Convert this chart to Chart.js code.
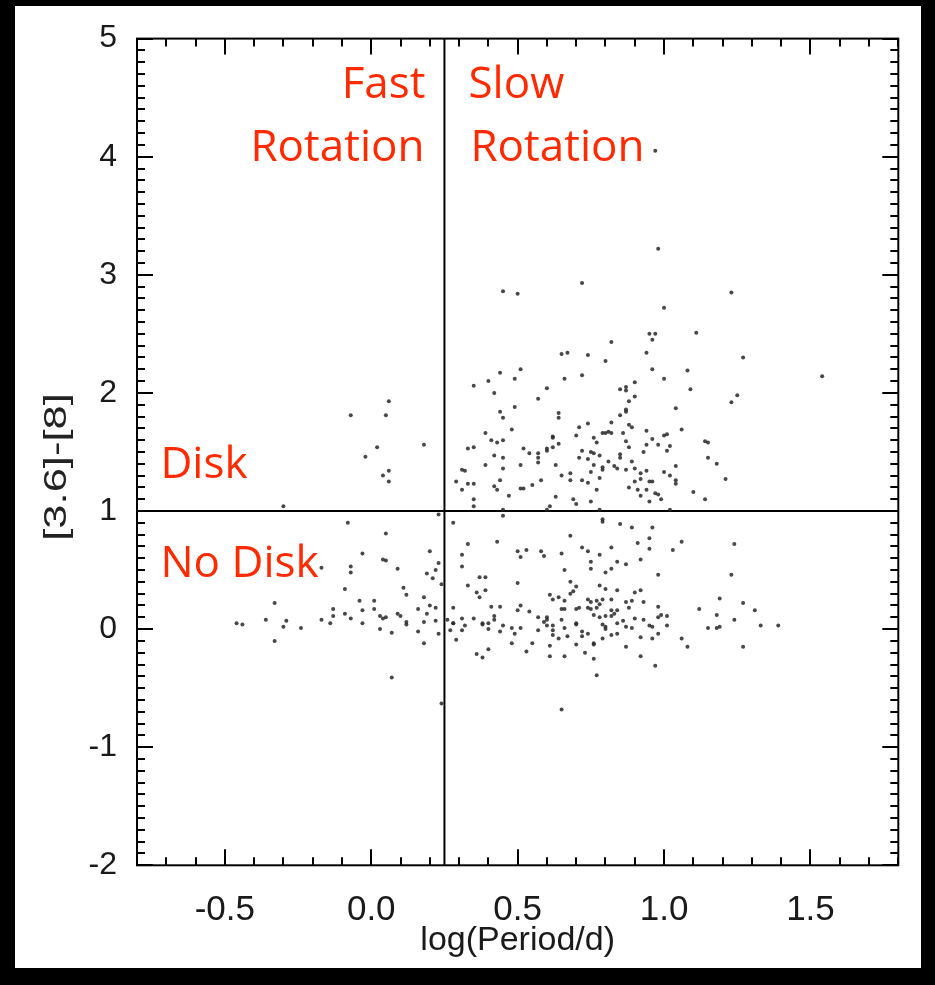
<!DOCTYPE html>
<html>
<head>
<meta charset="utf-8">
<script src="https://cdn.jsdelivr.net/npm/chart.js@4.4.0/dist/chart.umd.min.js"></script>
<style>
html, body { margin: 0; padding: 0; background: #000; }
#wrap { width: 935px; height: 985px; }
</style>
</head>
<body>
<div id="wrap"><canvas id="myChart" width="935" height="985"></canvas></div>
<script>
// log(Period/d) and [3.6]-[8] per quadrant
const fastDiskX = [0.06, -0.07, 0.05, 0.18, 0.02, -0.02, 0.06, 0.04, 0.06, -0.30]
const fastDiskY = [1.93, 1.81, 1.81, 1.56, 1.54, 1.46, 1.34, 1.30, 1.25, 1.04]

const fastNoDiskX = [0.23, -0.08, 0.05, -0.03, 0.04, 0.05, -0.07, -0.07, -0.17, 0.09, 0.20, 0.23, 0.22, 0.19, 0.21, 0.24,
  -0.09, 0.11, 0.12, 0.18, -0.33, -0.04, 0.01, 0.01, 0.20, 0.22, -0.13, -0.03, 0.16, -0.13, -0.14, -0.09, -0.07, -0.03,
  0.03, 0.04, 0.05, 0.09, 0.10, 0.12, 0.12, 0.19, 0.18, 0.22, -0.46, -0.44, -0.36, -0.30, -0.29, -0.24, -0.17, 0.03,
  0.07, 0.16, 0.23, -0.33, 0.18, 0.07, 0.24]
const fastNoDiskY = [0.97, 0.90, 0.81, 0.64, 0.59, 0.58, 0.53, 0.48, 0.52, 0.51, 0.66, 0.56, 0.50, 0.47, 0.43, 0.38,
  0.34, 0.35, 0.29, 0.27, 0.22, 0.24, 0.24, 0.17, 0.20, 0.18, 0.17, 0.16, 0.17, 0.11, 0.05, 0.13, 0.09, 0.05,
  0.11, 0.09, 0.10, 0.13, 0.11, 0.06, 0.04, 0.13, 0.06, 0.07, 0.05, 0.04, 0.08, 0.02, 0.07, 0.01, 0.08, 0.00,
  -0.03, -0.02, -0.04, -0.10, -0.12, -0.41, -0.63]

const slowDiskX = [0.98, 0.45, 0.50, 0.72, 1.23, 1.00, 0.95, 0.97, 0.96, 1.11, 0.82, 0.65, 0.67, 0.74, 0.80, 0.94, 1.27,
  1.54, 0.96, 1.00, 1.08, 1.09, 1.25, 1.23, 1.04, 0.90, 0.90, 0.87, 0.87, 0.85, 0.88, 0.87, 0.87, 0.85, 0.35, 0.40,
  0.44, 0.51, 0.49, 0.42, 0.49, 0.44, 0.45, 0.60, 0.57, 0.66, 0.72, 0.64, 0.64, 0.97,
  0.74, 0.82, 0.88, 0.89, 0.71, 0.39, 0.48, 0.62, 0.62, 0.70, 0.76, 0.79, 0.80, 0.81, 0.82, 0.86, 0.94, 1.00, 1.01,
  1.06, 0.41, 0.43, 0.45, 0.77, 0.87, 0.96, 1.14, 1.15, 0.33, 0.35, 0.52, 0.54, 0.57, 0.57, 0.60, 0.60, 0.62, 0.64,
  0.72, 0.75, 0.76, 0.78, 0.71, 0.74, 0.85, 0.85, 0.88, 0.93, 0.94, 0.98, 1.02, 1.01, 1.15, 1.18, 1.21, 0.42, 0.45,
  0.39, 0.45, 0.51, 0.57, 0.63, 0.76, 0.81, 0.83, 0.84, 0.87, 0.89, 0.90, 0.92, 0.94, 1.00, 1.02, 1.04, 0.31, 0.32,
  0.29, 0.31, 0.33, 0.35, 0.35, 0.35, 0.42, 0.43, 0.44, 0.47, 0.51, 0.52, 0.55, 0.58, 0.65, 0.68, 0.68, 0.63, 0.69,
  0.70, 0.72, 0.74, 0.75, 0.78, 0.77, 0.75, 0.79, 0.79, 0.88, 0.90, 0.91, 0.92, 0.92, 0.94, 0.95, 0.96, 0.95, 0.97,
  0.98, 0.99, 1.04, 1.04, 1.10, 1.14, 0.45, 0.60, 0.61, 0.78, 1.02]
const slowDiskY = [3.22, 2.86, 2.84, 2.93, 2.85, 2.72, 2.50, 2.50, 2.45, 2.51, 2.43, 2.33, 2.34, 2.32, 2.27, 2.34, 2.30,
  2.14, 2.20, 2.12, 2.19, 2.03, 1.98, 1.92, 1.87, 2.09, 1.97, 2.05, 2.02, 2.03, 1.93, 1.86, 1.84, 1.81, 2.06, 2.10,
  2.17, 2.20, 2.12, 2.00, 1.88, 1.84, 1.79, 2.04, 1.95, 2.12, 2.15, 1.83, 1.79, 4.05,
  1.74, 1.75, 1.73, 1.71, 1.71, 1.66, 1.69, 1.63, 1.62, 1.64, 1.62, 1.66, 1.66, 1.67, 1.66, 1.66, 1.68, 1.64, 1.65,
  1.69, 1.60, 1.58, 1.60, 1.58, 1.59, 1.61, 1.59, 1.58, 1.53, 1.54, 1.53, 1.49, 1.49, 1.45, 1.51, 1.53, 1.54, 1.57,
  1.51, 1.50, 1.49, 1.47, 1.45, 1.44, 1.48, 1.45, 1.54, 1.50, 1.56, 1.56, 1.55, 1.51, 1.45, 1.40, 1.27, 1.47, 1.45,
  1.39, 1.36, 1.39, 1.41, 1.39, 1.39, 1.42, 1.38, 1.36, 1.35, 1.42, 1.36, 1.32, 1.34, 1.33, 1.30, 1.38, 1.35, 1.34,
  1.25, 1.18, 1.23, 1.23, 1.10, 1.04, 1.21, 1.18, 1.26, 1.13, 1.19, 1.19, 1.22, 1.26, 1.30, 1.32, 1.26, 1.12, 1.10,
  1.06, 1.26, 1.24, 1.33, 1.28, 1.18, 1.08, 1.35, 1.37, 1.20, 1.25, 1.18, 1.27, 1.13, 1.18, 1.25, 1.25, 1.08, 1.15,
  1.14, 1.10, 1.26, 1.23, 1.16, 1.10, 1.01, 1.01, 1.04, 1.01, 1.01]

const slowNoDiskX = [0.45, 0.28, 0.79, 0.79, 0.85, 0.89, 0.96, 0.68, 0.95, 0.28, 0.26, 0.28, 0.27, 0.29, 0.33, 0.43,
  0.53, 0.50, 0.51, 0.58, 0.59, 0.65, 0.72, 0.74, 0.78, 0.82, 0.91, 0.95, 1.06, 1.03, 1.24, 0.31, 0.31, 0.33, 0.37,
  0.39, 0.50, 0.66, 0.75, 0.75, 0.80, 0.82, 0.84, 0.87, 0.92, 0.98, 1.23, 0.68, 0.70, 0.36, 0.37, 0.39, 0.61, 0.64,
  0.62, 0.66, 0.68, 0.69, 0.78, 0.80, 0.84, 0.90, 0.92, 0.74, 0.75, 0.77, 0.79, 0.78, 0.74, 0.77, 0.82, 0.87, 0.89,
  0.93, 0.88, 0.98, 0.41, 0.44, 0.50, 0.51, 0.54, 0.65, 0.66, 0.70, 0.71, 0.82, 0.83, 0.84, 0.82, 0.80, 0.78, 0.76,
  0.75, 1.27, 1.19, 1.31, 1.12, 1.18, 1.24, 1.33, 1.39, 1.15, 1.18, 1.19, 1.27, 1.06, 1.08, 0.97, 0.92, 0.87, 0.77,
  0.76, 0.73, 0.70, 0.76, 0.76, 0.79, 0.82, 0.84, 0.92, 0.96, 0.98, 1.01, 0.99, 1.01, 0.98, 0.95, 0.96, 0.93, 0.90,
  0.87, 0.89, 0.86, 0.84, 0.79, 0.80, 0.80, 0.74, 0.72, 0.72, 0.70, 0.70, 0.66, 0.67, 0.64, 0.62, 0.62, 0.62, 0.60,
  0.60, 0.60, 0.59, 0.57, 0.65, 0.57, 0.55, 0.53, 0.48, 0.49, 0.51, 0.48, 0.44, 0.45, 0.42, 0.42, 0.40, 0.38, 0.38,
  0.40, 0.35, 0.31, 0.32, 0.31, 0.28, 0.36, 0.38, 0.40, 0.61, 0.61, 0.66, 0.65]
const slowNoDiskY = [0.96, 0.90, 0.93, 0.91, 0.89, 0.86, 0.86, 0.79, 0.77, 0.18, 0.08, 0.05, -0.01, -0.09, 0.72, 0.74,
  0.67, 0.66, 0.61, 0.66, 0.62, 0.64, 0.69, 0.66, 0.63, 0.69, 0.73, 0.68, 0.74, 0.67, 0.72, 0.63, 0.53, 0.37, 0.44,
  0.44, 0.39, 0.50, 0.57, 0.51, 0.48, 0.51, 0.57, 0.55, 0.59, 0.46, 0.46, 0.40, 0.36, 0.31, 0.27, 0.33, 0.29, 0.27,
  0.25, 0.24, 0.30, 0.32, 0.37, 0.34, 0.33, 0.31, 0.33, 0.25, 0.23, 0.24, 0.25, 0.21, 0.18, 0.18, 0.25, 0.23, 0.24,
  0.23, 0.18, 0.19, 0.19, 0.19, 0.16, 0.20, 0.15, 0.17, 0.17, 0.17, 0.18, 0.16, 0.13, 0.16, 0.11, 0.11, 0.10, 0.12,
  0.17, 0.22, 0.26, 0.16, 0.17, 0.12, 0.08, 0.03, 0.03, 0.01, 0.01, 0.02, -0.15, -0.08, -0.15, -0.31, -0.23, -0.15, -0.39,
  -0.25, -0.20, -0.13, -0.13, -0.12, -0.08, -0.05, -0.04, -0.07, -0.08, -0.04, 0.03, 0.12, 0.11, 0.10, 0.03, 0.02, 0.08, 0.09,
  0.02, 0.01, 0.07, 0.05, 0.04, 0.02, 0.00, -0.04, -0.06, -0.02, 0.05, 0.04, 0.01, -0.06, -0.08, -0.01, -0.05, 0.03, 0.03,
  0.08, 0.10, 0.06, 0.10, 0.08, -0.01, -0.12, -0.19, -0.12, -0.04, 0.01, 0.01, -0.02, 0.03, 0.11, 0.08, 0.00, 0.04, 0.05,
  0.05, 0.09, 0.09, 0.03, -0.01, 0.05, -0.21, -0.24, -0.17, -0.14, -0.23, -0.23, -0.68]

const xTicks = [-0.5, 0.0, 0.5, 1.0, 1.5]
const yTicks = [-2, -1, 0, 1, 2, 3, 4, 5]
const periodSplit = 0.25
const diskSplit = 1

const ctx = document.getElementById('myChart');

const toPoints = (xs, ys) => xs.map((x, i) => ({x: x, y: ys[i]}))

const dotStyle = {
    type: 'scatter',
    pointRadius: 2,
    pointHoverRadius: 2,
    pointBackgroundColor: 'rgba(40,40,40,0.85)',
    pointBorderWidth: 0
}

const background = {
    id: 'background',
    beforeDraw(chart){
        const c = chart.ctx
        c.save()
        c.fillStyle = '#000'
        c.fillRect(0, 0, chart.width, chart.height)
        c.fillStyle = '#fff'
        c.fillRect(15, 6, 906, 962)
        c.restore()
    }
}

// box frame with inward IDL-style ticks
const frame = {
    id: 'frame',
    afterDatasetsDraw(chart){
        const c = chart.ctx
        const {left, right, top, bottom} = chart.chartArea
        const xs = chart.scales.x
        const ys = chart.scales.y
        c.save()
        c.strokeStyle = '#000'
        c.lineWidth = 2
        c.strokeRect(left, top, right - left, bottom - top)
        c.beginPath()
        for(let i = -8; i <= 18; i++){
            const px = Math.round(xs.getPixelForValue(i / 10))
            const len = i % 5 === 0 ? 16 : 8
            c.moveTo(px, bottom); c.lineTo(px, bottom - len)
            c.moveTo(px, top); c.lineTo(px, top + len)
        }
        for(let i = -20; i <= 50; i++){
            const py = Math.round(ys.getPixelForValue(i / 10))
            const len = i % 10 === 0 ? 16 : 8
            c.moveTo(left, py); c.lineTo(left + len, py)
            c.moveTo(right, py); c.lineTo(right - len, py)
        }
        c.stroke()

        // y axis title
        c.fillStyle = '#222'
        c.font = "32px 'Liberation Sans', Arial, sans-serif"
        c.textAlign = 'center'
        c.textBaseline = 'middle'
        c.translate(57, (top + bottom) / 2 + 15)
        c.rotate(-Math.PI / 2)
        c.scale(1.36, 1)
        c.fillText('[3.6]-[8]', 0, 0)
        c.restore()
    }
}

const labels = {
    id: 'labels',
    afterDraw(chart){
        const c = chart.ctx
        const xs = chart.scales.x
        const ys = chart.scales.y
        const xl = xs.getPixelForValue(periodSplit)
        c.save()
        c.fillStyle = '#ff2a00'
        c.font = "44px 'Open Sans', sans-serif"
        c.textBaseline = 'alphabetic'
        c.textAlign = 'right'
        c.fillText('Fast', xl - 19, ys.getPixelForValue(4.5))
        c.fillText('Rotation', xl - 20, ys.getPixelForValue(3.96))
        c.textAlign = 'left'
        c.fillText('Slow', xl + 24, ys.getPixelForValue(4.5))
        c.fillText('Rotation', xl + 26, ys.getPixelForValue(3.96))
        const xd = xs.getPixelForValue(-0.72)
        c.fillText('Disk', xd, ys.getPixelForValue(1.28))
        c.fillText('No Disk', xd, ys.getPixelForValue(0.44))
        c.restore()
    }
}

new Chart(ctx, {
    data: {
        datasets: [
            {...dotStyle, data: toPoints(fastDiskX, fastDiskY)},
            {...dotStyle, data: toPoints(fastNoDiskX, fastNoDiskY)},
            {...dotStyle, data: toPoints(slowDiskX, slowDiskY)},
            {...dotStyle, data: toPoints(slowNoDiskX, slowNoDiskY)},
            {
                type: 'line',
                data: [{x: periodSplit, y: -2}, {x: periodSplit, y: 5}],
                borderColor: '#000', borderWidth: 2, pointRadius: 0
            },
            {
                type: 'line',
                data: [{x: -0.8, y: diskSplit}, {x: 1.8, y: diskSplit}],
                borderColor: '#000', borderWidth: 2, pointRadius: 0
            }
        ]
    },
    options: {
        responsive: false,
        animation: false,
        devicePixelRatio: 1,
        events: [],
        layout: {
            padding: {left: 0, right: 36.7, top: 38.6, bottom: 0}
        },
        plugins: {
            legend: {display: false},
            tooltip: {enabled: false}
        },
        scales: {
            x: {
                type: 'linear',
                min: -0.8,
                max: 1.8,
                afterBuildTicks: (scale)=>{
                    scale.ticks = xTicks.map(v=>({value: v}))
                },
                afterFit: (scale)=>{
                    scale.height = 119.7
                },
                grid: {display: false},
                border: {display: false},
                ticks: {
                    color: '#1a1a1a',
                    padding: 16,
                    maxRotation: 0,
                    font: {family: "'Liberation Sans', Arial, sans-serif", size: 35},
                    callback: (v)=>v.toFixed(1)
                },
                title: {
                    display: true,
                    text: 'log(Period/d)',
                    color: '#1a1a1a',
                    padding: {top: 0, bottom: 24},
                    font: {family: "'Liberation Sans', Arial, sans-serif", size: 34}
                }
            },
            y: {
                type: 'linear',
                min: -2,
                max: 5,
                afterBuildTicks: (scale)=>{
                    scale.ticks = yTicks.map(v=>({value: v}))
                },
                afterFit: (scale)=>{
                    scale.width = 137
                },
                grid: {display: false},
                border: {display: false},
                ticks: {
                    color: '#1a1a1a',
                    padding: 12,
                    font: {family: "'Liberation Sans', Arial, sans-serif", size: 32},
                    callback: (v)=>String(v)
                }
            }
        }
    },
    plugins: [background, frame, labels]
});
</script>
</body>
</html>
